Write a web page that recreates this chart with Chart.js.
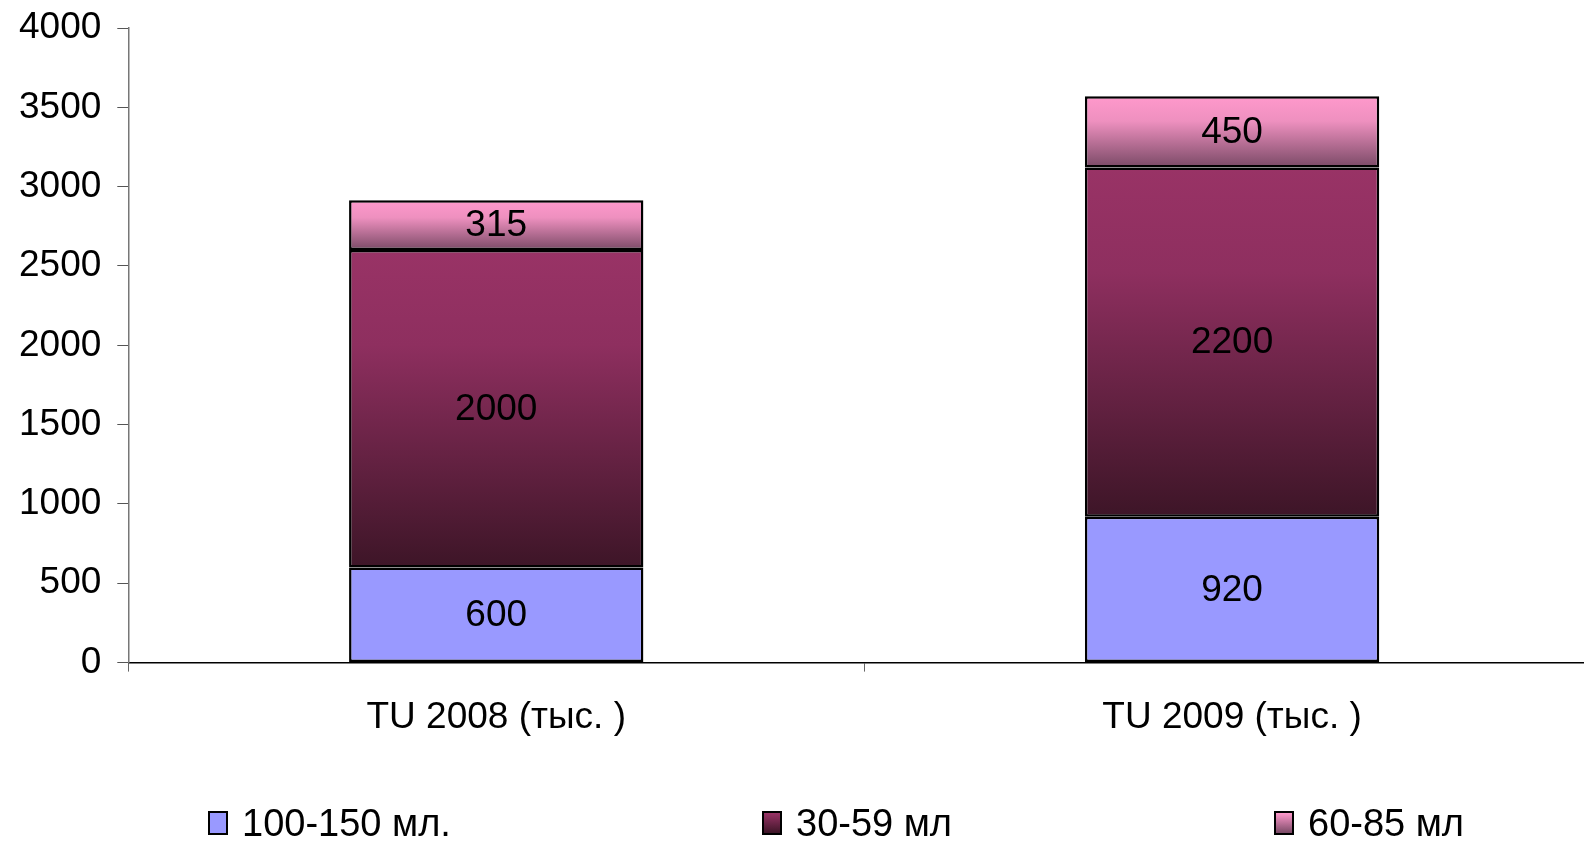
<!DOCTYPE html>
<html>
<head>
<meta charset="utf-8">
<script src="https://cdn.jsdelivr.net/npm/chart.js"></script>
<style>
  body { margin: 0; background: #fff; font-family: "Liberation Sans", Arial, sans-serif; overflow: hidden; }
  #wrap { position: relative; width: 1584px; height: 841px; overflow: hidden; }
  .leg { position: absolute; top: 801px; display: flex; align-items: center; font-size: 38px; line-height: 44px; color: #000; }
  .leg i { display: inline-block; width: 16px; height: 20px; border: 2px solid #000; margin-right: 14px; }
</style>
</head>
<body>
<div id="wrap">
  <!-- canvas a bit wider than the page: the x axis runs past the right edge as in the original -->
  <canvas id="chart" width="1600" height="841"></canvas>
  <div class="leg" style="left:208px"><i style="background:#9999ff"></i>100-150 мл.</div>
  <div class="leg" style="left:762px"><i style="background:linear-gradient(#993366,#3d1527)"></i>30-59 мл</div>
  <div class="leg" style="left:1274px"><i style="background:linear-gradient(#ff99cc,#7a4a66)"></i>60-85 мл</div>
</div>
<script>
    const categories = ['TU 2008 (тыс. )', 'TU 2009 (тыс. )'];
    const seriesNames = ['100-150 мл.', '30-59 мл', '60-85 мл'];
    const small = [600, 920];
    const middle = [2000, 2200];
    const top3 = [315, 450];
    const yTicks = [0, 500, 1000, 1500, 2000, 2500, 3000, 3500, 4000];

    const font = '"Liberation Sans", Arial, sans-serif';

    // vertical gradient over each stacked segment
    function segGrad(stops) {
        return function (c) {
            const chart = c.chart, y = chart.scales.y;
            if (!y || c.type !== 'data') return stops[0][1];
            let base = 0;
            for (let d = 0; d < c.datasetIndex; d++) base += chart.data.datasets[d].data[c.dataIndex];
            const t = y.getPixelForValue(base + c.raw), b = y.getPixelForValue(base);
            if (!isFinite(t) || !isFinite(b)) return stops[0][1];
            const g = chart.ctx.createLinearGradient(0, t, 0, b);
            stops.forEach(s => g.addColorStop(s[0], s[1]));
            return g;
        };
    }

    const valueLabels = {
        id: 'valueLabels',
        afterDatasetsDraw(chart) {
            const ctx = chart.ctx;
            ctx.save();
            ctx.font = '37px ' + font;
            ctx.fillStyle = '#000';
            ctx.textAlign = 'center';
            ctx.textBaseline = 'middle';
            chart.data.datasets.forEach((ds, i) => {
                chart.getDatasetMeta(i).data.forEach((bar, j) => {
                    ctx.fillText(ds.data[j], bar.x, (bar.y + bar.base) / 2 + 1);
                });
            });
            ctx.restore();
        }
    };

    const ctx = document.getElementById('chart').getContext('2d');
    const myChart = new Chart(ctx, {
        type: 'bar',
        data: {
            labels: categories,
            datasets: [
                { label: seriesNames[0], data: small, backgroundColor: '#9999ff' },
                { label: seriesNames[1], data: middle,
                  backgroundColor: segGrad([[0, '#993366'], [0.3, '#8e2f5f'], [1, '#3d1527']]) },
                { label: seriesNames[2], data: top3,
                  backgroundColor: segGrad([[0, '#ff99cc'], [0.35, '#ee90bf'], [1, '#7a4a66']]) }
            ].map(d => Object.assign(d, {
                borderColor: '#000', borderWidth: 2.5, borderSkipped: false,
                barPercentage: 0.4, categoryPercentage: 1
            }))
        },
        options: {
            responsive: false,
            animation: false,
            layout: { padding: { top: 28, left: 3, right: 0, bottom: 77 } },
            plugins: { legend: { display: false }, tooltip: { enabled: false } },
            scales: {
                x: {
                    stacked: true,
                    border: { color: '#000', width: 1.5 },
                    grid: { drawOnChartArea: false, drawTicks: true, tickLength: 9, color: '#666', offset: true },
                    ticks: { color: '#000', font: { size: 37, family: font }, padding: 24, maxRotation: 0 }
                },
                y: {
                    stacked: true,
                    min: 0, max: 4000,
                    afterBuildTicks: s => { s.ticks = yTicks.map(v => ({ value: v })); },
                    afterFit: s => { s.paddingTop = 0; s.paddingBottom = 0; },
                    border: { color: '#777', width: 1.5 },
                    grid: { drawOnChartArea: false, drawTicks: true, tickLength: 11, color: '#555' },
                    ticks: { color: '#000', font: { size: 37, family: font }, padding: 16, callback: v => String(v) }
                }
            }
        },
        plugins: [valueLabels]
    });
</script>
</body>
</html>
